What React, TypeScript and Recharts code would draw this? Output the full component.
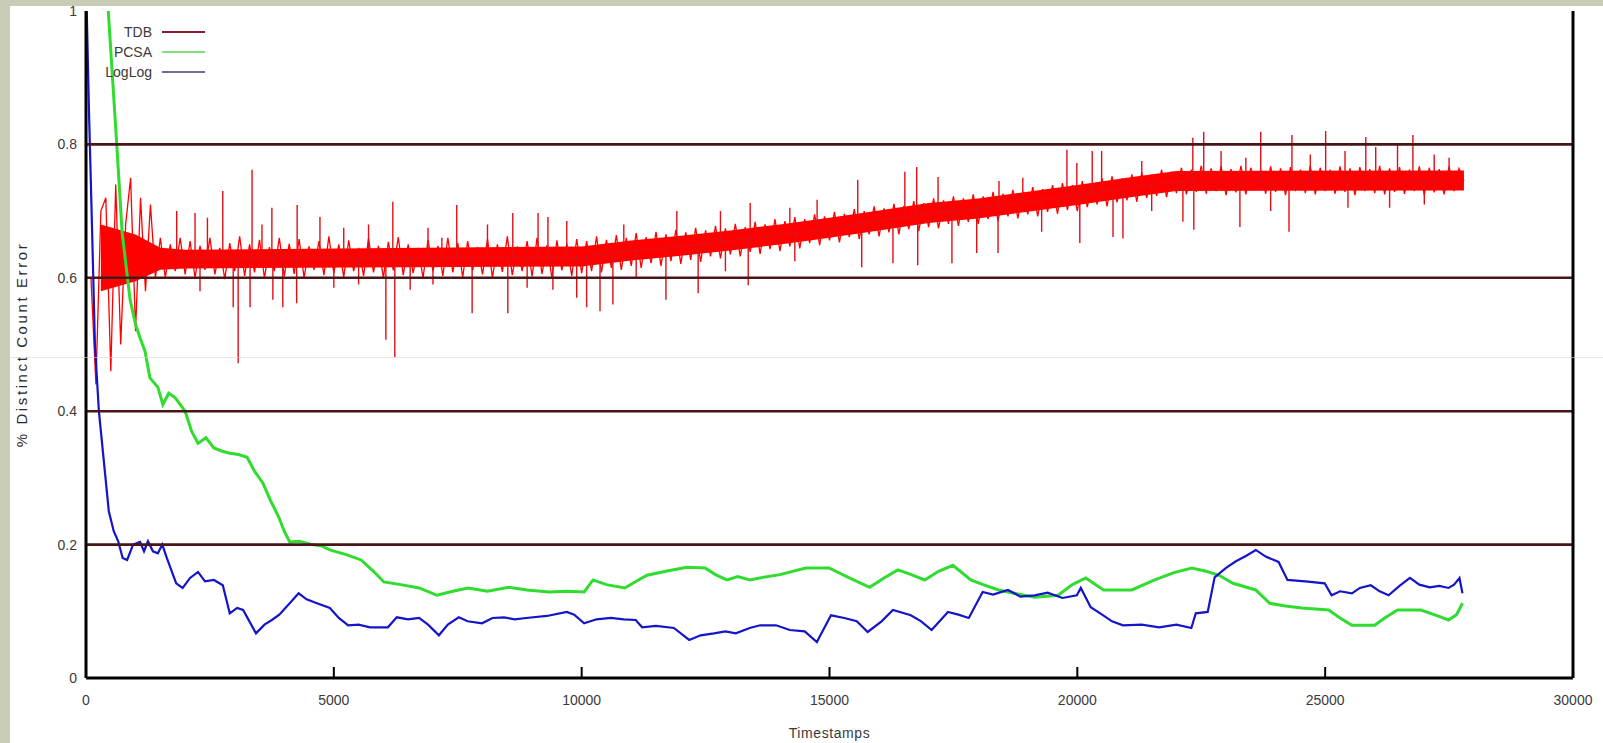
import React from 'react';
import { ComposedChart, Line, Area, XAxis, YAxis, ReferenceLine } from 'recharts';

// ---------- data ----------
const X_TICKS = [0, 5000, 10000, 15000, 20000, 25000, 30000];
const Y_TICKS = [0, 0.2, 0.4, 0.6, 0.8, 1];
const GRID_VALUES = [0.2, 0.4, 0.6, 0.8];
const SERIES_NAMES = ['TDB', 'PCSA', 'LogLog'];

// TDB trace sampled every 100 timestamps, starting at 100
const TDB_STEP = 100;
const tdbValues = [
  0.60, 0.44, 0.70, 0.72, 0.46, 0.74, 0.50, 0.68, 0.75, 0.52,
  0.72, 0.58, 0.71, 0.60, 0.66, 0.60, 0.65, 0.61, 0.66, 0.605,
  0.655, 0.60, 0.648, 0.612, 0.66, 0.605, 0.645, 0.598, 0.652, 0.61,
  0.662, 0.603, 0.65, 0.608, 0.657, 0.60, 0.646, 0.61, 0.66, 0.602,
  0.651, 0.606, 0.658, 0.60, 0.647, 0.612, 0.655, 0.604, 0.662, 0.607,
  0.65, 0.601, 0.656, 0.61, 0.645, 0.603, 0.659, 0.608, 0.648, 0.60,
  0.654, 0.611, 0.661, 0.604, 0.65, 0.607, 0.645, 0.60, 0.657, 0.61,
  0.648, 0.603, 0.66, 0.608, 0.652, 0.601, 0.655, 0.611, 0.646, 0.605,
  0.658, 0.60, 0.65, 0.609, 0.662, 0.604, 0.647, 0.61, 0.655, 0.602,
  0.66, 0.606, 0.649, 0.60, 0.656, 0.611, 0.651, 0.603, 0.658, 0.607,
  0.655, 0.61, 0.662, 0.608, 0.657, 0.615, 0.664, 0.612, 0.66, 0.618,
  0.667, 0.615, 0.661, 0.622, 0.669, 0.618, 0.665, 0.625, 0.672, 0.621,
  0.668, 0.627, 0.675, 0.624, 0.671, 0.632, 0.678, 0.629, 0.674, 0.635,
  0.681, 0.632, 0.676, 0.639, 0.684, 0.636, 0.68, 0.643, 0.688, 0.64,
  0.685, 0.647, 0.691, 0.644, 0.688, 0.652, 0.695, 0.649, 0.692, 0.656,
  0.699, 0.653, 0.696, 0.661, 0.703, 0.658, 0.70, 0.665, 0.707, 0.662,
  0.704, 0.668, 0.711, 0.665, 0.708, 0.673, 0.715, 0.67, 0.712, 0.676,
  0.719, 0.674, 0.716, 0.681, 0.722, 0.678, 0.719, 0.684, 0.725, 0.681,
  0.722, 0.688, 0.729, 0.685, 0.726, 0.692, 0.732, 0.689, 0.729, 0.695,
  0.736, 0.692, 0.733, 0.699, 0.739, 0.696, 0.742, 0.702, 0.739, 0.70,
  0.745, 0.706, 0.742, 0.71, 0.749, 0.707, 0.752, 0.713, 0.749, 0.716,
  0.755, 0.714, 0.758, 0.72, 0.755, 0.723, 0.762, 0.721, 0.759, 0.727,
  0.765, 0.725, 0.762, 0.729, 0.768, 0.726, 0.764, 0.73, 0.767, 0.724,
  0.763, 0.728, 0.768, 0.725, 0.765, 0.731, 0.762, 0.726, 0.767, 0.729,
  0.764, 0.724, 0.766, 0.73, 0.762, 0.727, 0.768, 0.725, 0.765, 0.73,
  0.762, 0.726, 0.767, 0.729, 0.764, 0.724, 0.766, 0.73, 0.763, 0.727,
  0.768, 0.725, 0.764, 0.729, 0.766, 0.726, 0.762, 0.73, 0.767, 0.724,
  0.765, 0.728, 0.763, 0.725, 0.767, 0.73, 0.764, 0.745,
];

// dense core of the TDB trace
const tdbBandTimes = [300, 1000, 1500, 2000, 10000, 11000, 12000, 13000, 14000, 15000, 16000, 17000, 18000, 19000, 20000, 21000, 22000, 27800];
const tdbBandLow = [0.58, 0.595, 0.612, 0.614, 0.617, 0.626, 0.633, 0.641, 0.65, 0.66, 0.671, 0.682, 0.689, 0.699, 0.709, 0.72, 0.73, 0.731];
const tdbBandHigh = [0.68, 0.665, 0.645, 0.642, 0.647, 0.656, 0.663, 0.671, 0.68, 0.69, 0.701, 0.712, 0.719, 0.729, 0.739, 0.75, 0.76, 0.761];

// isolated TDB spikes: where they leave the trace and how far they reach
const tdbSpikeTimes = [1830, 2200, 2300, 2450, 2760, 2970, 3070, 3310, 3350, 3550, 3750, 3770, 3970, 4250, 4260, 4720, 5000, 5200, 5500, 5700, 6050, 6190, 6230, 6540, 6900, 7000, 7180, 7480, 7790, 8100, 8510, 8610, 8900, 9120, 9320, 9420, 9700, 9900, 10100, 10370, 10630, 10850, 11100, 11700, 11920, 12350, 12800, 12900, 13360, 13400, 14200, 14300, 14750, 15570, 15650, 16280, 16520, 16760, 16780, 17190, 17470, 17970, 18400, 18420, 18900, 19280, 19790, 19990, 20050, 20300, 20490, 20720, 20920, 21300, 21500, 22130, 22330, 22350, 22550, 22900, 23280, 23400, 23700, 23900, 24270, 24330, 24700, 25010, 25400, 25460, 25820, 26020, 26300, 26460, 26770, 27000, 27200, 27500];
const tdbSpikeBase = [0.63, 0.63, 0.63, 0.63, 0.63, 0.63, 0.63, 0.63, 0.63, 0.63, 0.63, 0.63, 0.63, 0.63, 0.63, 0.63, 0.63, 0.63, 0.63, 0.63, 0.63, 0.63, 0.63, 0.63, 0.63, 0.63, 0.63, 0.63, 0.63, 0.63, 0.63, 0.63, 0.63, 0.63, 0.63, 0.63, 0.63, 0.63, 0.632, 0.634, 0.637, 0.64, 0.641, 0.645, 0.646, 0.65, 0.654, 0.655, 0.659, 0.659, 0.667, 0.668, 0.67, 0.681, 0.682, 0.689, 0.691, 0.694, 0.694, 0.699, 0.70, 0.704, 0.708, 0.708, 0.713, 0.717, 0.722, 0.724, 0.725, 0.727, 0.729, 0.731, 0.734, 0.738, 0.74, 0.745, 0.745, 0.745, 0.745, 0.745, 0.745, 0.745, 0.745, 0.745, 0.745, 0.745, 0.745, 0.745, 0.745, 0.745, 0.745, 0.745, 0.745, 0.745, 0.745, 0.745, 0.745, 0.745];
const tdbSpikeTip = [0.70, 0.697, 0.58, 0.69, 0.73, 0.556, 0.472, 0.556, 0.762, 0.68, 0.705, 0.567, 0.556, 0.562, 0.709, 0.691, 0.585, 0.675, 0.59, 0.68, 0.507, 0.714, 0.481, 0.582, 0.675, 0.59, 0.66, 0.709, 0.547, 0.68, 0.547, 0.697, 0.585, 0.697, 0.691, 0.582, 0.685, 0.57, 0.556, 0.55, 0.56, 0.68, 0.60, 0.567, 0.70, 0.577, 0.70, 0.61, 0.589, 0.712, 0.705, 0.625, 0.717, 0.747, 0.616, 0.622, 0.759, 0.766, 0.619, 0.751, 0.622, 0.637, 0.637, 0.745, 0.75, 0.669, 0.792, 0.772, 0.652, 0.79, 0.79, 0.661, 0.659, 0.775, 0.70, 0.684, 0.81, 0.672, 0.819, 0.79, 0.676, 0.78, 0.819, 0.70, 0.669, 0.814, 0.785, 0.82, 0.79, 0.705, 0.811, 0.796, 0.705, 0.802, 0.814, 0.71, 0.785, 0.78];

const pcsaTimes = [0, 200, 350, 450, 620, 730, 890, 1000, 1090, 1190, 1290, 1450, 1550, 1670, 1800, 2000, 2130, 2260, 2420, 2580, 2750, 2900, 3080, 3250, 3400, 3570, 3730, 3890, 4000, 4110, 4300, 4560, 4750, 4920, 5250, 5550, 5800, 6010, 6350, 6720, 7080, 7400, 7710, 8100, 8530, 8900, 9340, 9700, 10050, 10230, 10500, 10870, 11100, 11320, 11700, 12120, 12490, 12700, 12930, 13150, 13390, 13595, 14000, 14520, 14990, 15400, 15810, 16100, 16380, 16650, 16920, 17200, 17490, 17850, 18100, 18410, 18800, 19140, 19610, 19900, 20170, 20530, 21100, 21560, 21950, 22310, 22600, 22860, 23140, 23600, 23880, 24200, 24530, 25070, 25300, 25540, 26000, 26200, 26460, 26930, 27200, 27490, 27650, 27770];
const pcsaValues = [4.0, 1.9, 1.25, 1.0, 0.80, 0.667, 0.567, 0.53, 0.51, 0.49, 0.45, 0.436, 0.41, 0.427, 0.42, 0.40, 0.37, 0.352, 0.36, 0.345, 0.34, 0.337, 0.335, 0.331, 0.31, 0.292, 0.265, 0.241, 0.22, 0.204, 0.205, 0.2, 0.198, 0.192, 0.185, 0.177, 0.16, 0.144, 0.14, 0.135, 0.124, 0.13, 0.135, 0.13, 0.136, 0.132, 0.129, 0.13, 0.129, 0.147, 0.14, 0.135, 0.145, 0.154, 0.16, 0.166, 0.165, 0.155, 0.147, 0.152, 0.147, 0.15, 0.155, 0.165, 0.165, 0.15, 0.136, 0.15, 0.162, 0.155, 0.147, 0.16, 0.169, 0.147, 0.14, 0.132, 0.126, 0.121, 0.124, 0.14, 0.15, 0.132, 0.132, 0.147, 0.158, 0.165, 0.16, 0.154, 0.142, 0.132, 0.112, 0.108, 0.105, 0.102, 0.09, 0.079, 0.079, 0.09, 0.102, 0.102, 0.095, 0.087, 0.095, 0.112];

const logLogTimes = [0, 60, 120, 180, 260, 380, 460, 560, 650, 740, 830, 950, 1090, 1170, 1250, 1350, 1450, 1540, 1630, 1820, 1950, 2100, 2260, 2400, 2580, 2760, 2900, 3050, 3170, 3430, 3600, 3750, 3900, 4110, 4290, 4450, 4660, 4920, 5100, 5290, 5500, 5730, 6090, 6270, 6500, 6720, 6900, 7120, 7300, 7520, 7700, 7990, 8200, 8430, 8650, 8880, 9300, 9700, 9850, 10050, 10300, 10590, 10850, 11090, 11220, 11500, 11860, 12170, 12400, 12670, 12900, 13110, 13390, 13600, 13920, 14200, 14500, 14745, 15030, 15300, 15550, 15770, 16050, 16280, 16640, 16850, 17060, 17390, 17600, 17810, 18090, 18300, 18600, 18850, 19140, 19400, 19700, 19990, 20070, 20270, 20500, 20700, 20920, 21300, 21650, 22000, 22300, 22390, 22630, 22770, 23000, 23200, 23400, 23600, 23800, 24060, 24240, 24600, 24990, 25130, 25300, 25540, 25700, 25920, 26100, 26280, 26500, 26710, 26900, 27110, 27300, 27490, 27600, 27710, 27770];
const logLogValues = [1.05, 0.85, 0.68, 0.50, 0.40, 0.31, 0.25, 0.22, 0.205, 0.18, 0.177, 0.20, 0.204, 0.19, 0.205, 0.19, 0.187, 0.20, 0.18, 0.142, 0.135, 0.15, 0.159, 0.145, 0.147, 0.139, 0.097, 0.105, 0.102, 0.067, 0.08, 0.087, 0.095, 0.112, 0.127, 0.118, 0.112, 0.105, 0.09, 0.079, 0.08, 0.076, 0.076, 0.091, 0.088, 0.090, 0.08, 0.064, 0.08, 0.091, 0.085, 0.082, 0.09, 0.091, 0.088, 0.09, 0.093, 0.099, 0.095, 0.082, 0.088, 0.09, 0.088, 0.087, 0.076, 0.078, 0.075, 0.057, 0.064, 0.067, 0.07, 0.067, 0.075, 0.079, 0.079, 0.072, 0.07, 0.054, 0.094, 0.09, 0.085, 0.069, 0.085, 0.102, 0.094, 0.085, 0.072, 0.099, 0.095, 0.09, 0.129, 0.125, 0.132, 0.122, 0.124, 0.128, 0.12, 0.124, 0.135, 0.106, 0.095, 0.085, 0.079, 0.08, 0.076, 0.08, 0.075, 0.097, 0.099, 0.151, 0.165, 0.175, 0.183, 0.192, 0.182, 0.174, 0.147, 0.145, 0.142, 0.124, 0.13, 0.127, 0.135, 0.139, 0.13, 0.124, 0.138, 0.15, 0.14, 0.136, 0.138, 0.135, 0.14, 0.15, 0.127];

// ---------- derived tables ----------
const tdbData = tdbValues.map((v, i) => ({ t: (i + 1) * TDB_STEP, v }));
const tdbBandData = tdbBandTimes.map((t, i) => ({ t, band: [tdbBandLow[i], tdbBandHigh[i]] }));
const tdbSpikeData = tdbSpikeTimes.flatMap((t, i) => [
  { t, v: tdbSpikeBase[i] },
  { t, v: tdbSpikeTip[i] },
  { t, v: tdbSpikeBase[i] },
]);
const pcsaData = pcsaTimes.map((t, i) => ({ t, v: pcsaValues[i] }));
const logLogData = logLogTimes.map((t, i) => ({ t, v: logLogValues[i] }));

// ---------- styles ----------
const FONT = 'Liberation Sans, Arial, sans-serif';
const TEXT_COLOR = '#3a3a3a';
const LINE_COLORS = { TDB: '#ff0000', PCSA: '#2fdc2f', LogLog: '#1414c8' } as Record<string, string>;
const LEGEND_COLORS = { TDB: '#8e1c26', PCSA: '#7fe07f', LogLog: '#6c6c9e' } as Record<string, string>;

const BottomTick = (props: any) => {
  const { x, y, payload } = props;
  const edge = payload.value === X_TICKS[0] || payload.value === X_TICKS[X_TICKS.length - 1];
  return (
    <g>
      {!edge && <line x1={x} x2={x} y1={y} y2={y - 11} stroke="#000" strokeWidth={2} />}
      <text x={x} y={y + 27} textAnchor="middle" fontSize={14} fill={TEXT_COLOR} fontFamily={FONT}>
        {payload.value}
      </text>
    </g>
  );
};

const TopTick = (props: any) => {
  const { x, y, payload } = props;
  const edge = payload.value === X_TICKS[0] || payload.value === X_TICKS[X_TICKS.length - 1];
  if (edge) return <g />;
  return <line x1={x} x2={x} y1={y} y2={y + 11} stroke="#000" strokeWidth={2} />;
};

export default function App() {
  return (
    <div style={{ position: 'absolute', left: 0, top: 0, width: 1603, height: 743, background: '#fff', overflow: 'hidden' }}>
      <ComposedChart width={1603} height={743} margin={{ top: 11, right: 30, bottom: 0, left: 0 }}>
        <XAxis
          xAxisId="bottom"
          type="number"
          dataKey="t"
          domain={[0, 30000]}
          ticks={X_TICKS}
          allowDataOverflow
          height={65}
          tickSize={0}
          tickMargin={0}
          tickLine={false}
          tick={<BottomTick />}
          axisLine={{ stroke: '#000', strokeWidth: 3 }}
          label={{ value: 'Timestamps', position: 'insideBottom', offset: 5, fontSize: 14, fill: TEXT_COLOR, fontFamily: FONT, style: { letterSpacing: 0.6 } }}
        />
        <XAxis
          xAxisId="top"
          orientation="top"
          type="number"
          dataKey="t"
          domain={[0, 30000]}
          ticks={X_TICKS}
          allowDataOverflow
          height={0}
          tickSize={0}
          tickMargin={0}
          tickLine={false}
          tick={<TopTick />}
          axisLine={{ stroke: '#000', strokeWidth: 3 }}
        />
        <YAxis
          type="number"
          domain={[0, 1]}
          ticks={Y_TICKS}
          allowDataOverflow
          width={86}
          tickSize={0}
          tickMargin={9}
          tickLine={false}
          tick={{ fontSize: 14, fill: TEXT_COLOR, fontFamily: FONT }}
          axisLine={{ stroke: '#000', strokeWidth: 3 }}
          label={{ value: '% Distinct Count Error', angle: -90, position: 'insideLeft', offset: 22, fontSize: 15, fill: '#2a2a2a', fontFamily: FONT, style: { textAnchor: 'middle', letterSpacing: 2.6 } }}
        />
        <Area
          xAxisId="bottom"
          data={tdbBandData}
          dataKey="band"
          type="linear"
          stroke="none"
          fill={LINE_COLORS.TDB}
          fillOpacity={1}
          isAnimationActive={false}
          legendType="none"
        />
        <Line xAxisId="bottom" data={tdbData} dataKey="v" name="TDB" type="linear" stroke={LINE_COLORS.TDB} strokeWidth={1.3} dot={false} isAnimationActive={false} />
        <Line xAxisId="bottom" data={tdbSpikeData} dataKey="v" name="TDB spikes" type="linear" stroke="#e01018" strokeWidth={1.4} dot={false} isAnimationActive={false} legendType="none" />
        <Line xAxisId="bottom" data={pcsaData} dataKey="v" name="PCSA" type="linear" stroke={LINE_COLORS.PCSA} strokeWidth={3} dot={false} isAnimationActive={false} />
        <Line xAxisId="bottom" data={logLogData} dataKey="v" name="LogLog" type="linear" stroke={LINE_COLORS.LogLog} strokeWidth={2.2} dot={false} isAnimationActive={false} />
        {GRID_VALUES.map((g) => (
          <ReferenceLine key={g} xAxisId="bottom" y={g} stroke="#4a1517" strokeWidth={2.6} />
        ))}
        <ReferenceLine xAxisId="bottom" x={X_TICKS[X_TICKS.length - 1]} stroke="#000" strokeWidth={3} />
      </ComposedChart>

      {/* legend */}
      <svg width={1603} height={743} style={{ position: 'absolute', left: 0, top: 0, pointerEvents: 'none' }}>
        {SERIES_NAMES.map((name, i) => (
          <g key={name}>
            <text x={152} y={32 + i * 20} textAnchor="end" dominantBaseline="central" fontSize={14} fill={TEXT_COLOR} fontFamily={FONT}>
              {name}
            </text>
            <line x1={162} x2={205} y1={32 + i * 20} y2={32 + i * 20} stroke={LEGEND_COLORS[name]} strokeWidth={2} />
          </g>
        ))}
      </svg>

      {/* scan artefacts: page frame */}
      <div style={{ position: 'absolute', left: 0, top: 357, width: 1603, height: 1, background: '#d8d8cc', opacity: 0.6 }} />
      <div style={{ position: 'absolute', left: 0, top: 0, width: 1603, height: 6, background: '#c9ccb4' }} />
      <div style={{ position: 'absolute', left: 0, top: 0, width: 10, height: 743, background: '#c9ccb4' }} />
    </div>
  );
}
